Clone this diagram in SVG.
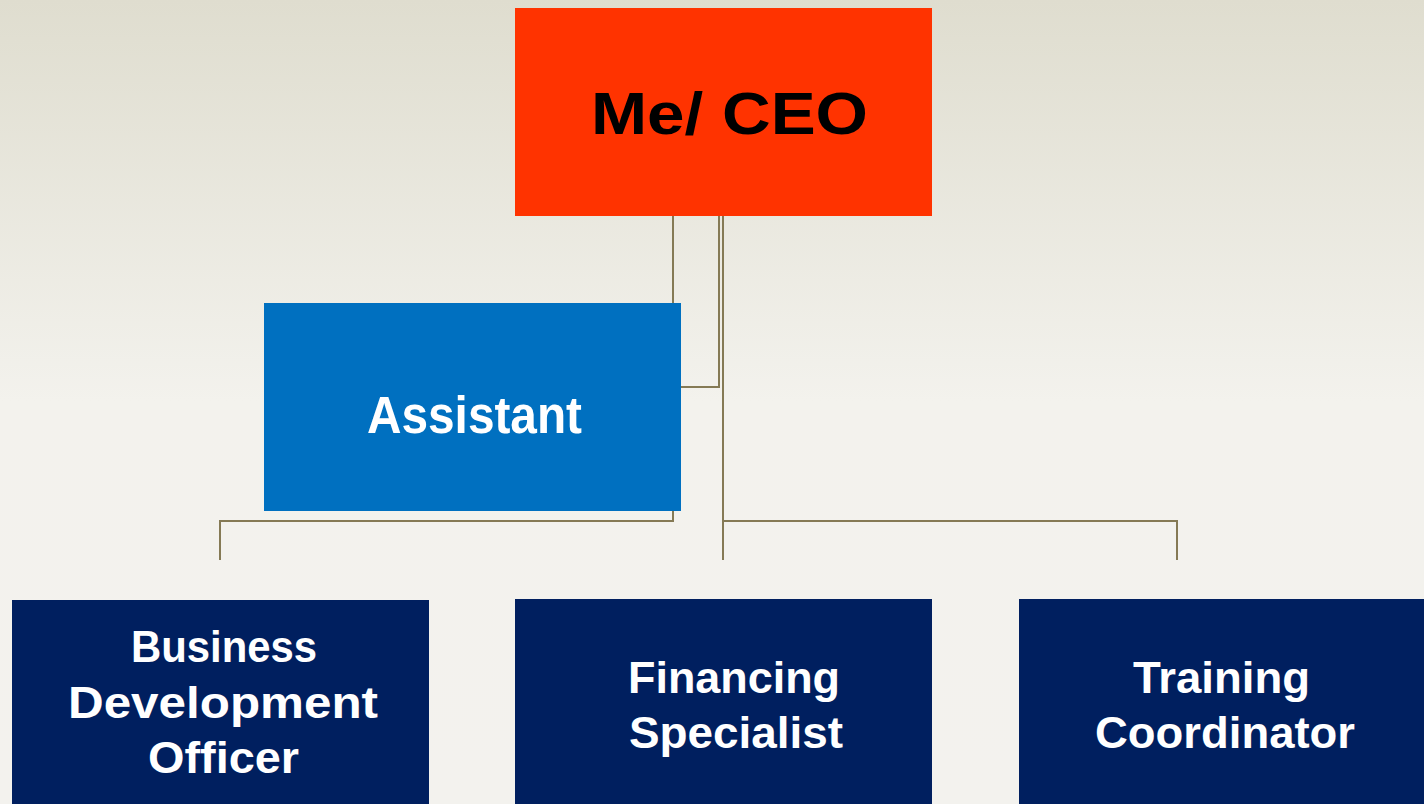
<svg xmlns="http://www.w3.org/2000/svg" width="1424" height="804" viewBox="0 0 1424 804">
<defs>
<linearGradient id="bg" x1="0" y1="0" x2="0" y2="1">
<stop offset="0" stop-color="#dfddcf"/>
<stop offset="0.5" stop-color="#f3f2ed"/>
<stop offset="1" stop-color="#f3f2ee"/>
</linearGradient>
<style>
.conn{fill:none;stroke:#857a55;stroke-width:2}
.t{font-family:"Liberation Sans",Arial,sans-serif;font-weight:bold}
.w{fill:#ffffff}
.navy{fill:#001f5f}
</style>
</defs>
<rect x="0" y="0" width="1424" height="804" fill="url(#bg)"/>
<g id="connectors">
<path class="conn" d="M673 216 V521 H220 V560"/>
<path class="conn" d="M719 216 V387 H681"/>
<path class="conn" d="M723 216 V560"/>
<path class="conn" d="M723 521 H1177 V560"/>
</g>
<g id="ceo">
<rect x="515" y="8" width="417" height="208" fill="#ff3300"/>
<text class="t" x="591" y="134" font-size="60" fill="#000000" textLength="277" lengthAdjust="spacingAndGlyphs">Me/ CEO</text>
</g>
<g id="assistant">
<rect x="264" y="303" width="417" height="208" fill="#0070c0"/>
<text class="t w" x="367" y="433" font-size="51" textLength="215" lengthAdjust="spacingAndGlyphs">Assistant</text>
</g>
<g id="bdo">
<rect class="navy" x="12" y="600" width="417" height="204"/>
<text class="t w" font-size="44">
<tspan x="131" y="662" textLength="186" lengthAdjust="spacingAndGlyphs">Business</tspan>
<tspan x="68" y="718" textLength="310" lengthAdjust="spacingAndGlyphs">Development</tspan>
<tspan x="148" y="773" textLength="151" lengthAdjust="spacingAndGlyphs">Officer</tspan>
</text>
</g>
<g id="financing">
<rect class="navy" x="515" y="599" width="417" height="205"/>
<text class="t w" font-size="44">
<tspan x="628" y="693" textLength="212" lengthAdjust="spacingAndGlyphs">Financing</tspan>
<tspan x="629" y="748" textLength="214" lengthAdjust="spacingAndGlyphs">Specialist</tspan>
</text>
</g>
<g id="training">
<rect class="navy" x="1019" y="599" width="405" height="205"/>
<text class="t w" font-size="44">
<tspan x="1133" y="693" textLength="177" lengthAdjust="spacingAndGlyphs">Training</tspan>
<tspan x="1095" y="748" textLength="260" lengthAdjust="spacingAndGlyphs">Coordinator</tspan>
</text>
</g>
</svg>
